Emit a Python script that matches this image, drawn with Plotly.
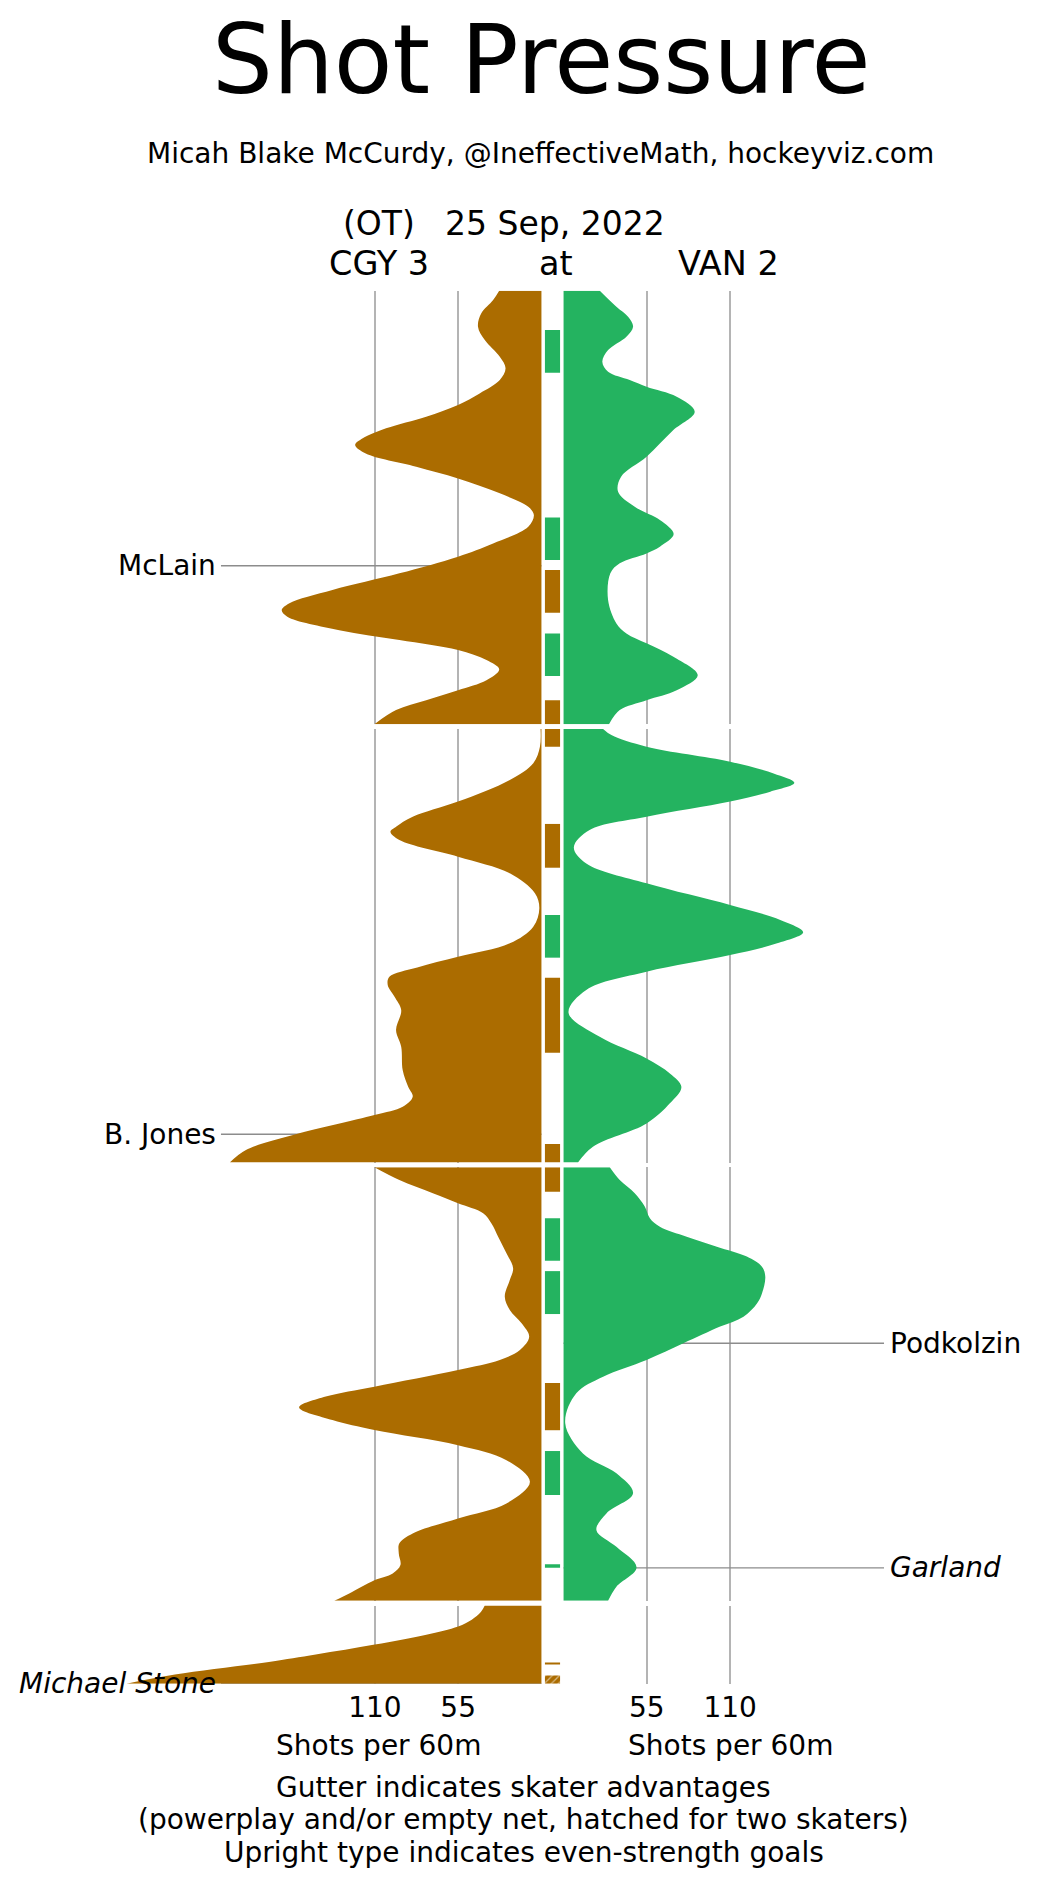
import plotly.graph_objects as go
from plotly.subplots import make_subplots

BROWN = '#ab6c00'
GREEN = '#24b360'
GRID = '#b4b4b4'
LEADER = '#8c8c8c'
FONT = 'DejaVu Sans'

# period lengths in minutes (OT ended on the winner)
period_len = [20, 20, 20, 3.6]

# shot rate curves: minutes into the period, shots per 60
cgy_min = [
    [0, 0.43, 1.04, 1.66, 2.28, 3.05, 3.58, 4.12, 4.74, 5.27, 5.81, 6.35, 6.81, 7.12, 7.51,
     8.12, 8.66, 9.35, 9.97, 10.35, 10.89, 11.66, 12.27, 13.04, 13.81, 14.43, 14.74, 15.04,
     15.66, 16.12, 16.58, 17.04, 17.47, 17.97, 18.43, 18.89, 19.35, 20],
    [0, 0.82, 1.58, 2.35, 3.35, 4.05, 4.51, 4.74, 5.12, 5.89, 6.66, 7.58, 8.28, 9.12, 9.89,
     10.51, 11.0, 11.43, 11.81, 12.35, 12.97, 13.89, 14.66, 15.74, 16.5, 16.97, 17.43,
     17.81, 18.7, 19.43, 20],
    [0, 0.59, 1.2, 1.66, 2.12, 2.59, 3.2, 3.97, 4.66, 5.2, 5.97, 6.58, 7.2, 7.82, 8.43,
     8.89, 9.35, 10.12, 10.58, 11.08, 11.66, 12.12, 12.82, 13.51, 14.51, 15.51, 16.2,
     16.89, 17.35, 17.82, 18.35, 18.74, 19.05, 19.66, 20],
    [0, 0.3, 0.65, 0.96, 1.34, 1.8, 2.26, 2.6, 3.18, 3.6],
]
cgy_rate = [
    [27.9, 31.9, 39.7, 41.9, 37.4, 27.5, 23.7, 27.5, 40.8, 55.1, 76.1, 102.6, 118, 123, 116,
     82.7, 55.1, 27.5, 8.7, 5.0, 8.7, 31.9, 55.1, 93.8, 138, 166.7, 171.5, 167.8,
     133.5, 93.8, 55.1, 36.3, 27.9, 36.3, 55.1, 76.1, 96, 110.3],
    [0.6, 1, 5.4, 20.9, 55.1, 85, 96, 99.7, 93.8, 55.1, 20.9, 4.3, 1.4, 5.4, 20.9,
     55.1, 82, 100.4, 101.5, 97, 92.6, 96, 92.6, 91.6, 88, 85, 91.6,
     110.3, 162.2, 195.4, 205.8],
    [110.3, 93.8, 71.7, 55.1, 38.5, 33, 28.6, 23.1, 18.7, 20.9, 24.2, 20.9, 13.1, 8.1, 14.2,
     27.5, 55.1, 110.3, 142.4, 160, 138, 110.3, 55.1, 23.1, 7.6, 23.1, 55.1,
     85, 93.8, 94.2, 93.1, 98.2, 110.3, 126.9, 136.8],
    [37.4, 40, 46, 55, 76, 110, 149, 180, 242, 274],
]
van_min = [
    [0, 0.74, 1.2, 1.66, 2.12, 2.74, 3.28, 3.74, 4.12, 4.43, 4.89, 5.58, 6.43, 7.66, 8.58,
     9.28, 9.97, 10.58, 11.23, 11.81, 12.12, 12.58, 13.04, 14.27, 15.35, 15.81, 16.27,
     16.89, 17.74, 18.43, 18.89, 19.35, 20],
    [0, 0.28, 0.82, 1.51, 2.05, 2.48, 2.89, 3.35, 4.05, 4.66, 5.46, 6.2, 7.12, 8.12, 8.81,
     9.38, 9.89, 10.43, 11.2, 12.04, 13.09, 14.2, 15.2, 15.89, 16.51, 17.27, 18.2, 19.27, 20],
    [0, 0.59, 1.2, 1.82, 2.35, 2.74, 3.2, 3.66, 4.12, 4.59, 5.05, 5.82, 6.28, 6.89, 7.35,
     8.12, 8.89, 9.66, 10.43, 11.81, 13.2, 14.12, 15.04, 15.97, 16.74, 17.51, 18.46,
     19.35, 20],
    [],
]
van_rate = [
    [23.9, 34.9, 42.6, 45.9, 41.5, 29.4, 25.6, 29.4, 43.7, 54.8, 74.7, 86.6, 72.5, 54.8, 38,
     36, 47, 63.6, 72.7, 63.6, 54.8, 37.1, 30.9, 29.4, 34.9, 41.5, 54.8,
     72.5, 88.6, 74.7, 54.8, 37.1, 30],
    [26.1, 31.6, 54.8, 110, 138.7, 152.4, 136.5, 110, 54.8, 17.2, 6.8, 15, 54.8, 110, 143.1,
     158.2, 141, 110, 54.8, 15, 3.3, 23.9, 54.8, 70.2, 77.8, 70.2, 54.8, 19.4, 9.5],
    [30.5, 37.1, 47, 53.7, 57, 63.6, 81.3, 101.2, 121, 131, 133.2, 131, 127.7, 118.8, 103.4,
     79.1, 54.8, 26.1, 8.4, 1.1, 12.8, 34.9, 45.9, 28.3, 21.7, 34.9, 48.2,
     34.9, 29.4],
    [],
]

# skater advantages shown in the gutter
adv_team = ['VAN', 'VAN', 'CGY', 'VAN', 'CGY',
            'CGY', 'CGY', 'VAN', 'CGY', 'CGY',
            'CGY', 'VAN', 'VAN', 'CGY', 'VAN', 'VAN',
            'CGY', 'CGY']
adv_period = [0, 0, 0, 0, 0,
              1, 1, 1, 1, 1,
              2, 2, 2, 2, 2, 2,
              3, 3]
adv_start = [1.81, 10.46, 12.89, 15.81, 18.89,
             0, 4.38, 8.58, 11.48, 19.15,
             0, 2.35, 4.79, 9.95, 13.09, 18.31,
             2.66, 3.22]
adv_end = [3.78, 12.43, 14.86, 17.78, 20,
           0.82, 6.40, 10.55, 14.94, 20,
           1.13, 4.31, 6.77, 12.13, 15.12, 18.48,
           2.72, 3.6]
adv_two = [False] * 17 + [True]

# goals
goal_name = ['McLain', 'B. Jones', 'Podkolzin', 'Garland', 'Michael Stone']
goal_team = ['CGY', 'CGY', 'VAN', 'VAN', 'CGY']
goal_period = [0, 1, 2, 2, 3]
goal_min = [12.69, 18.70, 8.12, 18.48, 3.6]
goal_even = [True, True, True, False, False]

# layout constants (pixels)
W, H = 1041, 1886
CENTER_PX = 552.5
PX_PER_UNIT = 1.5145
GUT = 7.3          # half gutter width, shot units
BOX = 5.0          # half width of the advantage boxes
TOP_PX = 290.7
PERIOD_PX = 433.5
GAP_PX = 4.8
LINE_END = 218.9
LABEL_X_LEFT = 220.6
LABEL_X_RIGHT = 221.5

XMIN = -CENTER_PX / PX_PER_UNIT
XMAX = (W - CENTER_PX) / PX_PER_UNIT

fig = make_subplots(rows=4, cols=1, shared_xaxes=True, vertical_spacing=0.0)

for i in range(4):
    r = i + 1
    # leader lines under the fills
    for k in range(len(goal_name)):
        if goal_period[k] != i:
            continue
        xs = [-LINE_END, -GUT] if goal_team[k] == 'CGY' else [GUT, LINE_END]
        fig.add_trace(go.Scatter(x=xs, y=[goal_min[k], goal_min[k]], mode='lines',
                                 line=dict(color=LEADER, width=1.4), hoverinfo='skip'),
                      row=r, col=1)

    for times, rates, sign, color in [(cgy_min[i], cgy_rate[i], -1, BROWN),
                                       (van_min[i], van_rate[i], 1, GREEN)]:
        if not times:
            continue
        fig.add_trace(go.Scatter(x=[sign * GUT, sign * GUT], y=[times[0], times[-1]],
                                 mode='lines', line=dict(width=0, color=color),
                                 hoverinfo='skip'), row=r, col=1)
        fig.add_trace(go.Scatter(x=[sign * (GUT + v) for v in rates], y=times, mode='lines',
                                 line=dict(width=0, color=color, shape='spline', smoothing=1.0),
                                 fill='tonextx', fillcolor=color, hoverinfo='skip'),
                      row=r, col=1)

    for team, color in [('CGY', BROWN), ('VAN', GREEN)]:
        idx = [k for k in range(len(adv_team)) if adv_team[k] == team and adv_period[k] == i]
        if not idx:
            continue
        fig.add_trace(go.Bar(orientation='h',
                             y=[(adv_start[k] + adv_end[k]) / 2 for k in idx],
                             width=[adv_end[k] - adv_start[k] for k in idx],
                             x=[2 * BOX] * len(idx), base=-BOX,
                             marker=dict(color=color, line=dict(width=0),
                                         pattern=dict(shape=['/' if adv_two[k] else '' for k in idx],
                                                      fgcolor='white', size=5, solidity=0.25)),
                             hoverinfo='skip'), row=r, col=1)

    # goal labels
    for k in range(len(goal_name)):
        if goal_period[k] != i:
            continue
        txt = goal_name[k] if goal_even[k] else '<i>%s</i>' % goal_name[k]
        left = goal_team[k] == 'CGY'
        fig.add_annotation(x=-LABEL_X_LEFT if left else LABEL_X_RIGHT, y=goal_min[k],
                           xref='x' if r == 1 else 'x%d' % r, yref='y' if r == 1 else 'y%d' % r,
                           text=txt, showarrow=False, xanchor='right' if left else 'left',
                           yanchor='middle', font=dict(size=28, color='black'))

# axes
domains = []
for i in range(4):
    top = TOP_PX + i * (PERIOD_PX + GAP_PX)
    bot = top + PERIOD_PX * period_len[i] / 20.0
    domains.append([1 - bot / H, 1 - top / H])

for r in range(1, 5):
    fig.update_xaxes(range=[XMIN, XMAX],
                     tickvals=[-(GUT + 110), -(GUT + 55), GUT + 55, GUT + 110],
                     ticktext=['110', '55', '55', '110'],
                     showgrid=True, gridcolor=GRID, gridwidth=1.6, zeroline=False,
                     showline=False, ticks='', tickfont=dict(size=28, color='black'),
                     row=r, col=1)
    fig.update_yaxes(range=[period_len[r - 1], 0], domain=domains[r - 1], visible=False,
                     row=r, col=1)
fig.update_xaxes(ticklabelstandoff=4, row=4, col=1)


def px_x(p):
    return p / W


def px_y(p):
    return 1 - p / H


texts = [
    ('Shot Pressure', 541.7, 60, 96),
    ('Micah Blake McCurdy, @IneffectiveMath, hockeyviz.com', 540.5, 153.3, 28),
    ('(OT)', 379, 223.6, 33),
    ('25 Sep, 2022', 555, 223.6, 33),
    ('CGY 3', 379, 263.6, 33.5),
    ('at', 555.5, 263.6, 33.5),
    ('VAN 2', 728.5, 263.6, 33.5),
    ('Shots per 60m', 378.5, 1745.5, 28),
    ('Shots per 60m', 730, 1745.5, 28),
    ('Gutter indicates skater advantages', 523.5, 1787, 28),
    ('(powerplay and/or empty net, hatched for two skaters)', 523.5, 1819, 28),
    ('Upright type indicates even-strength goals', 523.5, 1852, 28),
]
for txt, x, y, size in texts:
    fig.add_annotation(x=px_x(x), y=px_y(y), xref='paper', yref='paper', text=txt,
                       showarrow=False, xanchor='center', yanchor='middle',
                       font=dict(size=size, color='black'))

fig.update_layout(width=W, height=H, margin=dict(l=0, r=0, t=0, b=0),
                  paper_bgcolor='white', plot_bgcolor='white', showlegend=False,
                  barmode='overlay', font=dict(family=FONT, color='black'))

# drop the default page margin so the figure sits at the window origin
fig.write_html("out.html", config={'displayModeBar': False},
               post_script="document.body.style.margin='0px';")
